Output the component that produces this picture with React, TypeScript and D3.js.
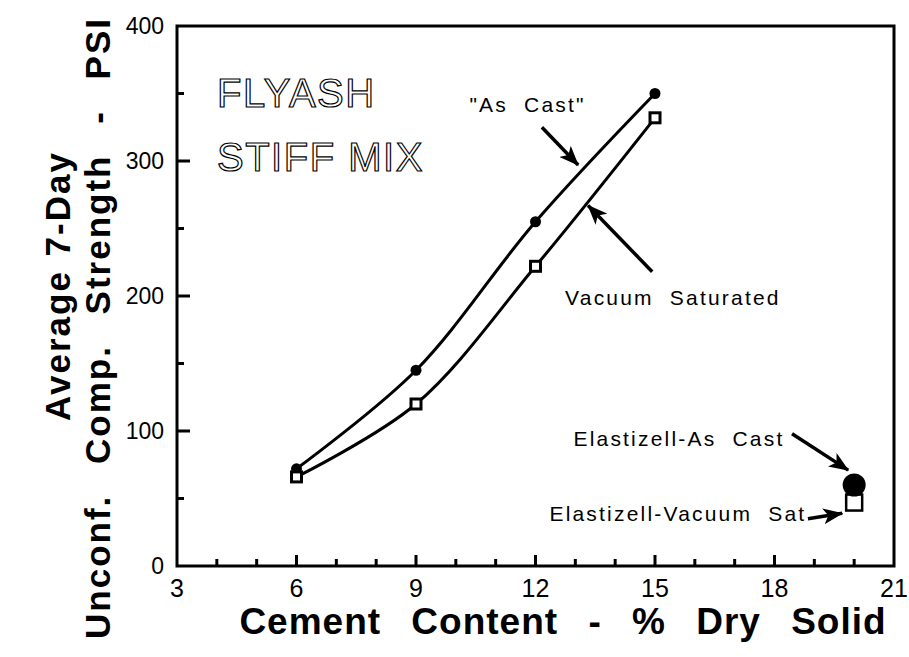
import React, { useEffect, useRef } from "react";
import * as d3 from "d3";

// cement content (% dry solid)
const cement = [6, 9, 12, 15];
// average 7-day unconfined compressive strength (psi)
const asCast = [72, 145, 255, 350];
const vacuumSat = [66, 120, 222, 332];

// Elastizell points
const elastizellX = 20;
const elastizellAsCast = 60;
const elastizellVacSat = 47;

const xTicks = [3, 6, 9, 12, 15, 18, 21];
const yTicks = [0, 100, 200, 300, 400];

// annotations in data units: label [x, y], arrow tail [x, y], arrow tip [x, y]
const notes = [
  { text: "\"As  Cast\"", anchor: "middle", at: [11.8, 336], from: [12.16, 325], to: [13.07, 297] },
  { text: "Vacuum  Saturated", anchor: "middle", at: [15.45, 193], from: [14.93, 218], to: [13.32, 267] },
  { text: "Elastizell-As  Cast", anchor: "end", at: [18.25, 89], from: [18.44, 98], to: [19.85, 71] },
  { text: "Elastizell-Vacuum  Sat", anchor: "end", at: [18.8, 33], from: [18.84, 35], to: [19.7, 39] },
];

const W = 909;
const H = 657;
const FONT = "'Liberation Sans', Arial, Helvetica, sans-serif";

const App = () => {
  const svgRef = useRef<SVGSVGElement>(null);

  useEffect(() => {
    document.body.style.margin = "0";
    const svg = d3.select(svgRef.current);
    svg.selectAll("*").remove();

    const margin = { top: 26, right: 15, bottom: 91, left: 177 };
    const x = d3.scaleLinear().domain([3, 21]).range([margin.left, W - margin.right]);
    const y = d3.scaleLinear().domain([0, 400]).range([H - margin.bottom, margin.top]);

    svg.append("rect").attr("width", W).attr("height", H).attr("fill", "white");

    const defs = svg.append("defs");
    defs
      .append("marker")
      .attr("id", "head")
      .attr("viewBox", "0 0 20 16")
      .attr("refX", 19)
      .attr("refY", 8)
      .attr("markerWidth", 20)
      .attr("markerHeight", 16)
      .attr("markerUnits", "userSpaceOnUse")
      .attr("orient", "auto")
      .append("path")
      .attr("d", "M0,0 L20,8 L0,16 L5,8 Z")
      .attr("fill", "black");

    // frame
    svg
      .append("rect")
      .attr("x", x(3))
      .attr("y", y(400))
      .attr("width", x(21) - x(3))
      .attr("height", y(0) - y(400))
      .attr("fill", "none")
      .attr("stroke", "black")
      .attr("stroke-width", 3);

    // inward ticks, majors longer
    const tickPath = d3.path();
    d3.range(4, 21).forEach((v) => {
      tickPath.moveTo(x(v), y(0));
      tickPath.lineTo(x(v), y(0) - (v % 3 === 0 ? 11 : 7));
    });
    d3.range(50, 400, 50).forEach((v) => {
      tickPath.moveTo(x(3), y(v));
      tickPath.lineTo(x(3) + (v % 100 === 0 ? 13 : 7), y(v));
    });
    svg
      .append("path")
      .attr("d", tickPath.toString())
      .attr("fill", "none")
      .attr("stroke", "black")
      .attr("stroke-width", 3);

    // tick labels
    svg
      .append("g")
      .selectAll("text")
      .data(xTicks)
      .join("text")
      .attr("x", (d) => x(d))
      .attr("y", y(0) + 31)
      .attr("text-anchor", "middle")
      .attr("font-family", FONT)
      .attr("font-size", 25)
      .text((d) => d);

    svg
      .append("g")
      .selectAll("text")
      .data(yTicks)
      .join("text")
      .attr("x", x(3) - 13)
      .attr("y", (d) => y(d) + 8)
      .attr("text-anchor", "end")
      .attr("font-family", FONT)
      .attr("font-size", 23)
      .text((d) => d);

    // axis titles
    svg
      .append("text")
      .attr("x", 563)
      .attr("y", 634)
      .attr("text-anchor", "middle")
      .attr("font-family", FONT)
      .attr("font-weight", "bold")
      .attr("font-size", 37)
      .attr("letter-spacing", 1)
      .attr("word-spacing", 19)
      .text("Cement Content - % Dry Solid");

    const yTitle = svg
      .append("g")
      .attr("transform", "rotate(-90)")
      .attr("text-anchor", "middle")
      .attr("font-family", FONT)
      .attr("font-weight", "bold")
      .attr("font-size", 35)
      .attr("letter-spacing", 2);
    yTitle
      .append("text")
      .attr("x", -286)
      .attr("y", 70)
      .attr("word-spacing", 2)
      .text("Average 7-Day");
    yTitle
      .append("text")
      .attr("x", -328)
      .attr("y", 110)
      .attr("word-spacing", 19)
      .text("Unconf. Comp. Strength - PSI");

    // outlined label
    const big = svg
      .append("g")
      .attr("font-family", FONT)
      .attr("font-size", 40)
      .attr("fill", "white")
      .attr("stroke", "black")
      .attr("stroke-width", 1.2)
      .attr("letter-spacing", 1.5)
      .style("white-space", "pre");
    big.append("text").attr("x", 217).attr("y", 107).text("FLYASH");
    big.append("text").attr("x", 217).attr("y", 171).text("STIFF  MIX");

    // curves
    const line = d3
      .line<number>()
      .x((_, i) => x(cement[i]))
      .y((d) => y(d))
      .curve(d3.curveCatmullRom.alpha(0.5));

    [asCast, vacuumSat].forEach((s) => {
      svg
        .append("path")
        .datum(s)
        .attr("d", line)
        .attr("fill", "none")
        .attr("stroke", "black")
        .attr("stroke-width", 3);
    });

    // markers
    svg
      .append("g")
      .selectAll("circle")
      .data(asCast)
      .join("circle")
      .attr("cx", (_, i) => x(cement[i]))
      .attr("cy", (d) => y(d))
      .attr("r", 5.5)
      .attr("fill", "black");

    svg
      .append("g")
      .selectAll("rect")
      .data(vacuumSat)
      .join("rect")
      .attr("x", (_, i) => x(cement[i]) - 5)
      .attr("y", (d) => y(d) - 5)
      .attr("width", 10)
      .attr("height", 10)
      .attr("fill", "white")
      .attr("stroke", "black")
      .attr("stroke-width", 3);

    // Elastizell
    svg
      .append("rect")
      .attr("x", x(elastizellX) - 8)
      .attr("y", y(elastizellVacSat) - 8)
      .attr("width", 16)
      .attr("height", 16)
      .attr("fill", "white")
      .attr("stroke", "black")
      .attr("stroke-width", 2.5);
    svg
      .append("circle")
      .attr("cx", x(elastizellX))
      .attr("cy", y(elastizellAsCast))
      .attr("r", 11.5)
      .attr("fill", "black");

    // annotations
    notes.forEach((n) => {
      svg
        .append("text")
        .attr("x", x(n.at[0]))
        .attr("y", y(n.at[1]))
        .attr("text-anchor", n.anchor)
        .attr("font-family", FONT)
        .attr("font-size", 21)
        .attr("letter-spacing", 2.2)
        .style("white-space", "pre")
        .text(n.text);
      svg
        .append("line")
        .attr("x1", x(n.from[0]))
        .attr("y1", y(n.from[1]))
        .attr("x2", x(n.to[0]))
        .attr("y2", y(n.to[1]))
        .attr("stroke", "black")
        .attr("stroke-width", 3.5)
        .attr("marker-end", "url(#head)");
    });
  }, []);

  return <svg ref={svgRef} width={W} height={H} style={{ display: "block" }} />;
};

export default App;
